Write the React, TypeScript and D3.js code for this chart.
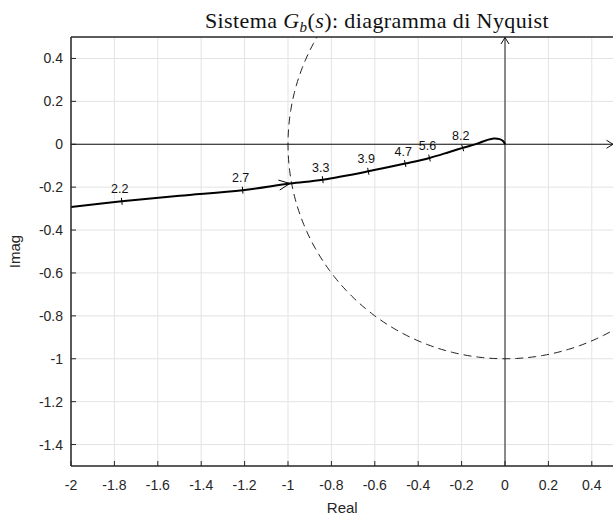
import React from "react";
import * as d3 from "d3";

// ---- data ----
const curveRe = [-2.0, -1.766, -1.5, -1.209, -0.991, -0.84, -0.63, -0.46, -0.348, -0.256, -0.195, -0.125, -0.085, -0.052, -0.025, -0.008, 0.0];
const curveIm = [-0.293, -0.266, -0.240, -0.214, -0.183, -0.165, -0.126, -0.090, -0.064, -0.036, -0.017, 0.004, 0.019, 0.027, 0.024, 0.014, 0.0];

const freqLabels = ["2.2", "2.7", "3.3", "3.9", "4.7", "5.6", "8.2"];
const freqRe = [-1.766, -1.209, -0.84, -0.63, -0.46, -0.348, -0.195];
const freqIm = [-0.266, -0.214, -0.165, -0.126, -0.090, -0.064, -0.017];

const arrowRe = [-0.991];
const arrowIm = [-0.183];

const xTicks = [-2, -1.8, -1.6, -1.4, -1.2, -1, -0.8, -0.6, -0.4, -0.2, 0, 0.2, 0.4];
const yTicks = [-1.4, -1.2, -1, -0.8, -0.6, -0.4, -0.2, 0, 0.2, 0.4];
const xDomain = [-2, 0.5];
const yDomain = [-1.5, 0.5];

const W = 613;
const H = 519;
const L = 71, R = 613.5, T = 37, B = 466;
const sans = "'Liberation Sans', Arial, sans-serif";
const serif = "'Liberation Serif', 'DejaVu Serif', serif";

function fmt(v: number) {
  const s = String(Math.round(v * 10) / 10);
  return s;
}

export default function App() {
  const x = d3.scaleLinear().domain(xDomain).range([L, R]);
  const y = d3.scaleLinear().domain(yDomain).range([B, T]);

  const pts: [number, number][] = curveRe.map((r, i) => [x(r), y(curveIm[i])]);
  const line = d3.line().curve(d3.curveCatmullRom.alpha(0.5))(pts) || "";

  // unit circle
  const circ: [number, number][] = d3.range(0, 361, 1).map((a) => {
    const t = (a * Math.PI) / 180;
    return [x(Math.cos(t)), y(Math.sin(t))];
  });
  const circPath = d3.line()(circ) || "";

  const dirAt = (re: number) => {
    let i = 0;
    while (i < curveRe.length - 2 && curveRe[i + 1] < re) i++;
    const dx = x(curveRe[i + 1]) - x(curveRe[i]);
    const dy = y(curveIm[i + 1]) - y(curveIm[i]);
    const n = Math.hypot(dx, dy);
    return [dx / n, dy / n];
  };

  return (
    <svg width={W} height={H} style={{ display: "block", position: "absolute", left: 0, top: 0, background: "#fff" }}>
      <defs>
        <clipPath id="plotclip">
          <rect x={L} y={T} width={R - L} height={B - T} />
        </clipPath>
      </defs>
      <rect x={0} y={0} width={W} height={H} fill="#fff" />
      {/* grid */}
      {xTicks.map((t) => (
        <line key={"gx" + t} x1={x(t)} x2={x(t)} y1={T} y2={B} stroke="#e3e3e3" strokeWidth={1} />
      ))}
      {yTicks.map((t) => (
        <line key={"gy" + t} x1={L} x2={R} y1={y(t)} y2={y(t)} stroke="#e3e3e3" strokeWidth={1} />
      ))}
      {/* tick marks */}
      {xTicks.map((t) => (
        <line key={"tx" + t} x1={x(t)} x2={x(t)} y1={B} y2={B - 5} stroke="#262626" strokeWidth={1} />
      ))}
      {yTicks.map((t) => (
        <line key={"ty" + t} x1={L} x2={L + 5} y1={y(t)} y2={y(t)} stroke="#262626" strokeWidth={1} />
      ))}
      {/* plot content */}
      <g clipPath="url(#plotclip)">
        <path d={circPath} fill="none" stroke="#222" strokeWidth={1} strokeDasharray="8,5" />
        <line x1={x(-2)} x2={x(0.5)} y1={y(0)} y2={y(0)} stroke="#111" strokeWidth={1} />
        <line x1={x(0)} x2={x(0)} y1={y(-1.5)} y2={y(0.5)} stroke="#222" strokeWidth={1} />
        <path d={line} fill="none" stroke="#000" strokeWidth={2} />
      </g>
      {/* axis arrows */}
      <path
        d={`M${x(0.5) - 7},${y(0) - 4} L${x(0.5) - 0.5},${y(0)} L${x(0.5) - 7},${y(0) + 4}`}
        fill="none"
        stroke="#111"
        strokeWidth={1}
      />
      <path
        d={`M${x(0) - 4},${y(0.5) + 7} L${x(0)},${y(0.5) + 0.5} L${x(0) + 4},${y(0.5) + 7}`}
        fill="none"
        stroke="#111"
        strokeWidth={1}
      />
      {/* curve arrow */}
      {arrowRe.map((r, i) => {
        const [ux, uy] = dirAt(r);
        const px = x(r), py = y(arrowIm[i]);
        const len = 11, hw = 5;
        const bx = px - ux * len, by = py - uy * len;
        const nx = -uy, ny = ux;
        return (
          <path
            key={"ar" + i}
            d={`M${bx + nx * hw},${by + ny * hw} L${px},${py} L${bx - nx * hw},${by - ny * hw}`}
            fill="none"
            stroke="#000"
            strokeWidth={1}
          />
        );
      })}
      {/* frequency ticks and labels */}
      {freqLabels.map((lab, i) => {
        const [ux, uy] = dirAt(freqRe[i]);
        const px = x(freqRe[i]), py = y(freqIm[i]);
        const nx = -uy, ny = ux;
        return (
          <g key={"f" + lab}>
            <line x1={px + nx * 3.5} y1={py + ny * 3.5} x2={px - nx * 3.5} y2={py - ny * 3.5} stroke="#000" strokeWidth={1} />
            <text x={px - 2} y={py - 8} textAnchor="middle" fontFamily={sans} fontSize={12.5} fill="#111">
              {lab}
            </text>
          </g>
        );
      })}
      {/* axes box lines */}
      <line x1={L} x2={L} y1={T} y2={B} stroke="#262626" strokeWidth={1.5} />
      <line x1={L} x2={R} y1={B} y2={B} stroke="#262626" strokeWidth={1.5} />
      <line x1={L} x2={R} y1={T} y2={T} stroke="#262626" strokeWidth={1.5} />
      {/* tick labels */}
      {xTicks.map((t) => (
        <text key={"lx" + t} x={x(t)} y={490} textAnchor="middle" fontFamily={sans} fontSize={14} fill="#262626">
          {fmt(t)}
        </text>
      ))}
      {yTicks.map((t) => (
        <text key={"ly" + t} x={63} y={y(t) + 5} textAnchor="end" fontFamily={sans} fontSize={14} fill="#262626">
          {fmt(t)}
        </text>
      ))}
      <text x={(L + R) / 2} y={513} textAnchor="middle" fontFamily={sans} fontSize={15} fill="#262626">
        Real
      </text>
      <text
        transform={`translate(20,${(T + B) / 2}) rotate(-90)`}
        textAnchor="middle"
        fontFamily={sans}
        fontSize={15}
        fill="#262626"
      >
        Imag
      </text>
      {/* title */}
      <text x={377} y={28} textAnchor="middle" fontFamily={serif} fontSize={22} letterSpacing={0.4} fill="#111">
        Sistema <tspan fontStyle="italic">G</tspan>
        <tspan fontStyle="italic" fontSize={15} dy={4}>b</tspan>
        <tspan dy={-4}>(</tspan>
        <tspan fontStyle="italic">s</tspan>
        <tspan>): diagramma di Nyquist</tspan>
      </text>
    </svg>
  );
}
